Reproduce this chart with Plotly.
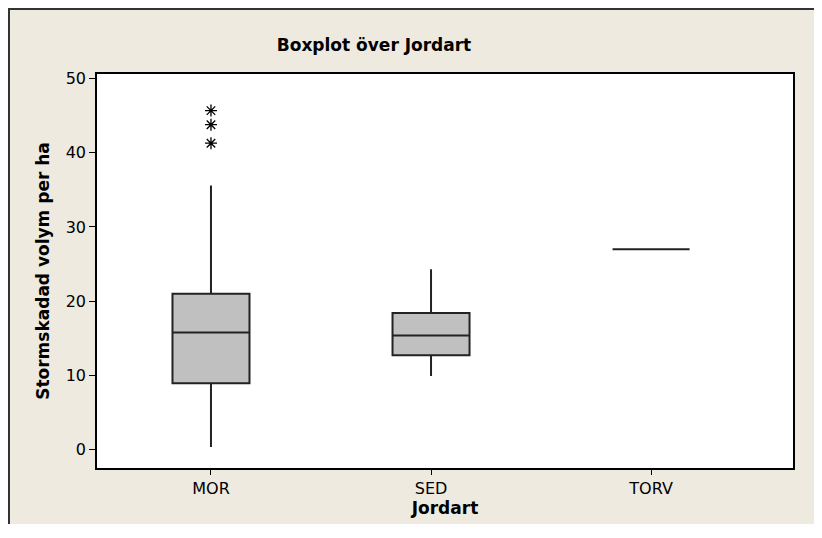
import plotly.graph_objects as go

categories = ["MOR", "SED", "TORV"]
q1 = [8.9, 12.7, 27.0]
median = [15.75, 15.35, 27.0]
q3 = [21.0, 18.4, 27.0]
lowerfence = [0.3, 9.9, 27.0]
upperfence = [35.6, 24.3, 27.0]
outlier_cat = ["MOR", "MOR", "MOR"]
outlier_val = [45.7, 43.8, 41.3]

title_text = "Boxplot över Jordart"
x_title = "Jordart"
y_title = "Stormskadad volym per ha"
y_ticks = [0, 10, 20, 30, 40, 50]

FONT = "Tahoma, DejaVu Sans, sans-serif"

fig = go.Figure()
fig.add_trace(go.Box(
    x=categories, q1=q1, median=median, q3=q3,
    lowerfence=lowerfence, upperfence=upperfence,
    fillcolor="#C0C0C0", line=dict(color="#222222", width=2),
    width=0.35, whiskerwidth=0, boxpoints=False, showlegend=False,
    hoverinfo="skip",
))
fig.add_trace(go.Scatter(
    x=outlier_cat, y=outlier_val, mode="markers",
    marker=dict(symbol="asterisk-open", size=10, color="black",
                line=dict(color="black", width=1.3)),
    showlegend=False, hoverinfo="skip",
))

# page body has an 8px margin; figure sits at (8, 8)
W, H = 814, 516
L, R, T, B = 89, 29, 66, 56
pw, ph = W - L - R, H - T - B
fig.add_shape(type="rect", xref="paper", yref="paper",
              x0=(-L + 1) / pw, x1=1 + (R + 20) / pw,
              y0=-(B + 20) / ph, y1=1 + (T - 1) / ph,
              line=dict(color="#333333", width=2), layer="below")

fig.update_layout(
    width=W, height=H,
    margin=dict(l=L, r=R, t=T, b=B),
    paper_bgcolor="#EEEAE0", plot_bgcolor="white",
    font=dict(family=FONT, size=16, color="black"),
    title=dict(text="<b>" + title_text + "</b>", x=(374 - 8) / W, xanchor="center",
               y=1 - 37 / H, yanchor="middle", font=dict(size=17, family=FONT)),
    xaxis=dict(
        type="category", range=[-0.518, 2.645],
        showline=True, linecolor="black", linewidth=1.5, mirror=True,
        ticks="outside", ticklen=5, tickcolor="black", tickwidth=1,
        showgrid=False, zeroline=False,
        title=dict(text="<b>" + x_title + "</b>", standoff=3, font=dict(size=17)),
        tickfont=dict(size=16),
    ),
    yaxis=dict(
        range=[-2.53, 50.64], tickvals=y_ticks,
        showline=True, linecolor="black", linewidth=1.5, mirror=True,
        ticks="outside", ticklen=6, tickcolor="black", tickwidth=1,
        showgrid=False, zeroline=False,
        title=dict(text="<b>" + y_title + "</b>", standoff=12, font=dict(size=17)),
        tickfont=dict(size=16),
    ),
)

fig.write_html("out.html")
